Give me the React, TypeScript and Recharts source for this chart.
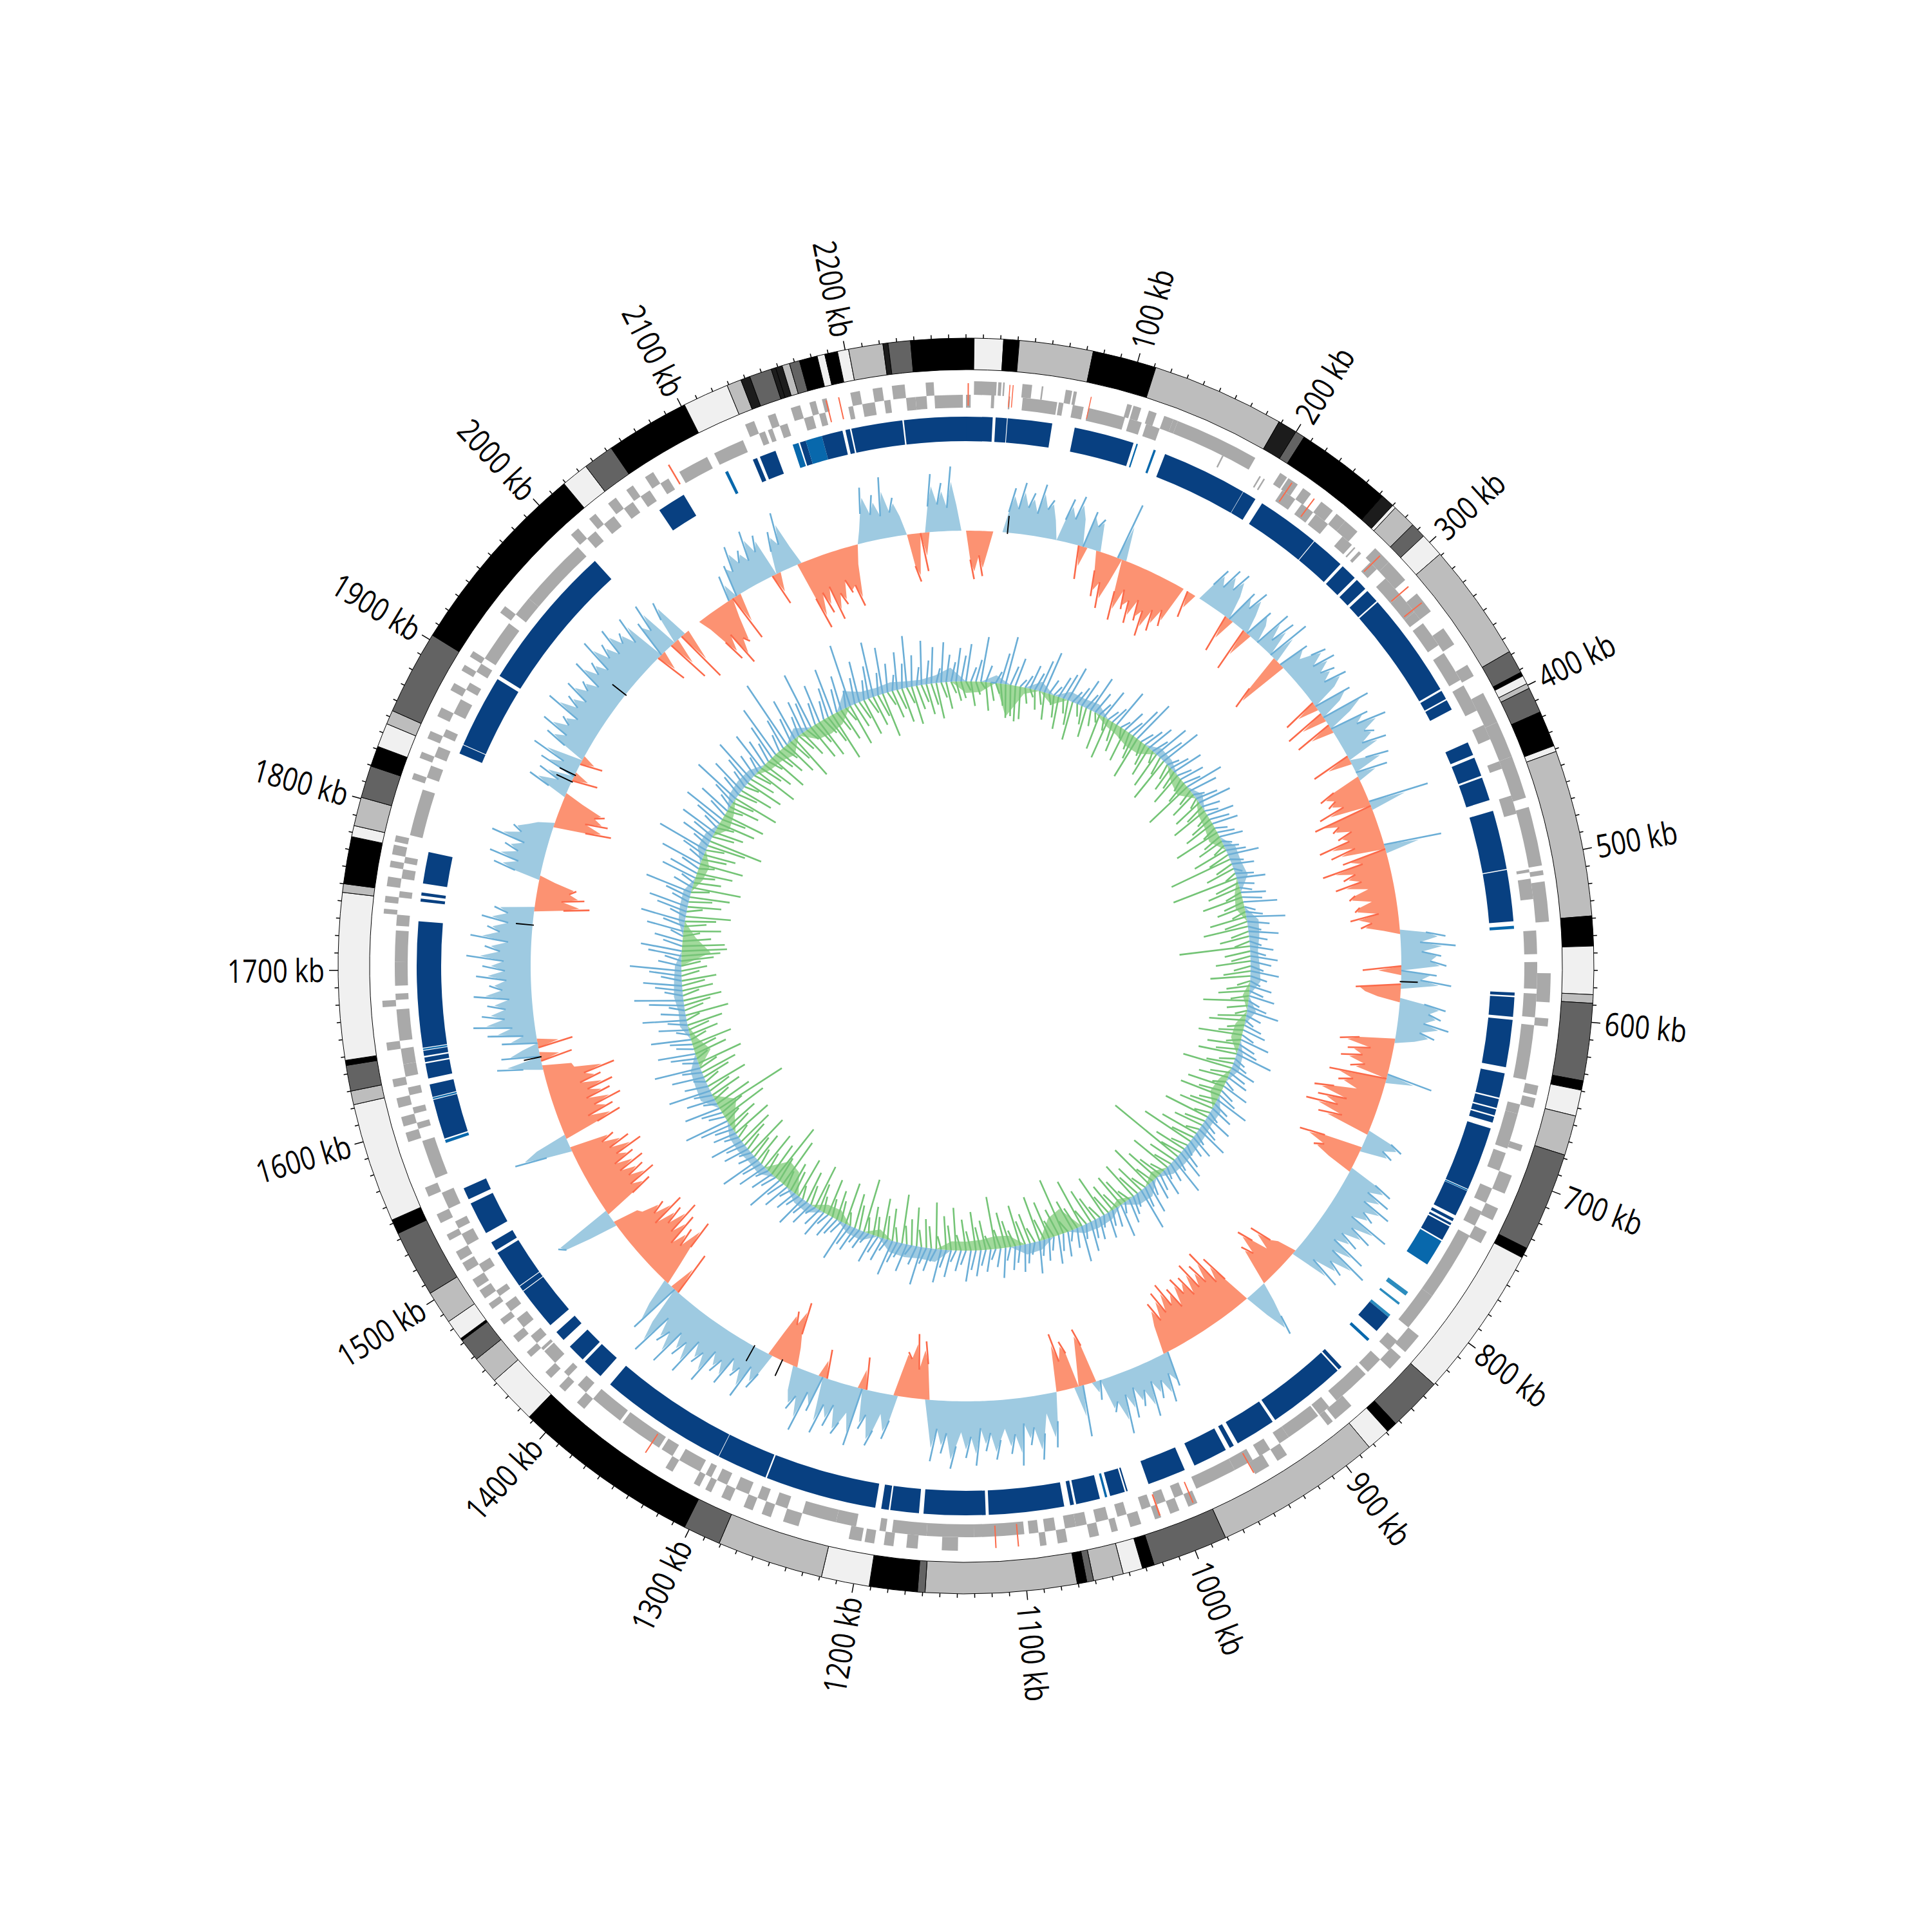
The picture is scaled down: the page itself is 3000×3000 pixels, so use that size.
import { Cell, Pie, PieChart, PolarAngleAxis, PolarRadiusAxis, Radar, RadarChart } from "recharts"

const SIZE = 3000
const GENOME_KB = 2270
const BLACK = "#000000"
const DARK = "#636363"
const GREY = "#bdbdbd"
const LIGHT = "#f0f0f0"
const HATCH = "#1c1c1c"
const NAVY = "#084081"
const MID = "#0868ac"
const SKY = "#2b8cbe"

// ideogram bands: end position (kb) + colour, clockwise from the top
const bandEnds = [4.7, 21.7, 30.8, 73.8, 111, 188.6, 199.9, 205.5, 262, 270, 272, 286, 295, 309, 378, 391.6, 394, 399, 402, 417, 438, 441.5, 538.6, 556, 584, 589, 634, 639.5, 654.7, 678, 736, 742, 831, 862.6, 869, 883, 981, 1025, 1032, 1043.5, 1061, 1065, 1070.6, 1158.6, 1163, 1191, 1219, 1281, 1303, 1413, 1442, 1458, 1471.6, 1473, 1485, 1504.4, 1543.5, 1552, 1622, 1630, 1645, 1648, 1745, 1750, 1777.5, 1784, 1800.8, 1819.6, 1831.6, 1845.6, 1853.8, 1903, 2019, 2035, 2053, 2102, 2129, 2137.5, 2143, 2156, 2158.7, 2162.6, 2167, 2173, 2183.5, 2188, 2195.5, 2202, 2222, 2225, 2238, 2270]
const bandColors = [BLACK, LIGHT, BLACK, GREY, BLACK, GREY, HATCH, DARK, BLACK, HATCH, LIGHT, GREY, DARK, LIGHT, GREY, DARK, BLACK, LIGHT, GREY, DARK, BLACK, LIGHT, GREY, BLACK, LIGHT, GREY, DARK, BLACK, LIGHT, GREY, DARK, BLACK, LIGHT, DARK, BLACK, LIGHT, GREY, DARK, BLACK, LIGHT, GREY, DARK, BLACK, GREY, DARK, BLACK, LIGHT, GREY, DARK, BLACK, LIGHT, GREY, DARK, BLACK, LIGHT, GREY, DARK, BLACK, LIGHT, GREY, DARK, BLACK, LIGHT, GREY, BLACK, LIGHT, GREY, DARK, BLACK, LIGHT, GREY, DARK, BLACK, LIGHT, DARK, BLACK, LIGHT, GREY, HATCH, DARK, HATCH, HATCH, GREY, DARK, BLACK, LIGHT, BLACK, LIGHT, GREY, HATCH, DARK, BLACK]

const geneOuter = [[5,19],[20,22],[23,24],[35,41],[47,48],[62,66],[67,69],[101,104],[105,110],[115,120],[125,131],[131,134],[134,187],[205,210],[211,218],[222,228],[236,245],[248,255],[255,265],[280,292],[292,307],[318,332],[345,357],[372,380],[392,412],[412,435],[435,462],[468,505],[508,511],[515,540],[572,590],[600,605],[642,648],[650,656],[680,684],[700,712],[722,730],[738,746],[815,828],[832,842],[875,888],[890,894],[925,932],[938,948],[988,994],[1000,1006],[1012,1016],[1025,1032],[1040,1044],[1052,1058],[1072,1078],[1085,1089],[1140,1150],[1165,1172],[1180,1186],[1192,1198],[1200,1208],[1240,1250],[1258,1264],[1270,1276],[1285,1291],[1298,1302],[1306,1310],[1325,1330],[1392,1398],[1408,1413],[1420,1425],[1438,1442],[1450,1455],[1464,1468],[1476,1480],[1484,1490],[1492,1498],[1504,1510],[1512,1518],[1526,1530],[1538,1544],[1556,1562],[1592,1598],[1602,1608],[1614,1620],[1627,1632],[1650,1655],[1677,1681],[1735,1738],[1742,1746],[1752,1758],[1764,1768],[1772,1778],[1780,1784],[1820,1824],[1834,1838],[1847,1852],[1862,1868],[1880,1885],[1894,1898],[1904,1908],[1937,1942],[2002,2008],[2017,2022],[2032,2038],[2046,2051],[2060,2066],[2130,2136],[2145,2150],[2160,2166],[2172,2176],[2180,2183],[2198,2204],[2212,2218],[2224,2232],[2245,2250]]
const geneInner = [[0,3],[16,18],[27,28],[36,58],[59,62],[68,75],[78,102],[105,113],[116,125],[168,169],[195,196],[198,199],[212,222],[227,236],[238,248],[260,268],[270,271],[274,276],[284,290],[298,312],[312,326],[326,332],[335,352],[358,378],[382,400],[410,420],[435,440],[458,470],[506,508],[512,525],[545,560],[565,582],[585,600],[605,640],[656,662],[662,685],[688,700],[712,722],[728,738],[745,790],[790,815],[826,834],[842,853],[855,880],[886,894],[895,918],[918,925],[932,940],[945,958],[958,985],[994,1000],[1006,1012],[1016,1022],[1032,1038],[1044,1052],[1058,1065],[1065,1072],[1078,1085],[1089,1095],[1098,1130],[1130,1160],[1160,1182],[1186,1190],[1205,1218],[1218,1240],[1250,1258],[1264,1270],[1276,1285],[1291,1298],[1302,1306],[1310,1325],[1330,1338],[1340,1368],[1370,1392],[1398,1405],[1413,1417],[1425,1435],[1436,1438],[1442,1448],[1455,1462],[1468,1474],[1480,1484],[1498,1504],[1518,1526],[1530,1535],[1544,1555],[1565,1590],[1598,1602],[1608,1612],[1620,1625],[1632,1640],[1640,1650],[1655,1675],[1681,1685],[1690,1705],[1705,1725],[1728,1735],[1746,1750],[1758,1764],[1768,1772],[1786,1816],[1824,1832],[1838,1845],[1852,1857],[1868,1878],[1885,1890],[1898,1904],[1908,1935],[1942,1955],[1955,2000],[2008,2015],[2022,2030],[2038,2045],[2051,2058],[2066,2072],[2080,2100],[2105,2125],[2136,2140],[2142,2145],[2150,2155],[2166,2172],[2176,2180],[2195,2198],[2204,2212],[2218,2222],[2232,2238],[2238,2245],[2250,2268]]
const geneRed = [[1,1.8],[27,27.6],[29,29.6],[78,78.6],[214,214.8],[231,231.8],[285,285.8],[311,311.8],[324,324.8],[948,948.8],[990,990.8],[1012,1013],[1102,1102.8],[1116,1116.8],[1345,1345.8],[2076,2077],[2182,2182.8],[2190,2190.8]]

// conserved blocks: start, end, colour
const blockSpans = [[0,17.6],[19.5,27],[27.5,57],[72,112],[114,115],[126,127.5],[134,191],[191.3,200.5],[205.7,247.8],[248.3,271],[273,284],[286,294],[296,305],[306,376.6],[378,384],[385,392],[416,425],[427,439.7],[441,456.6],[464,503.3],[504,538],[541,543],[585,587],[588,601],[603,634.5],[638.6,655],[656,662],[663,667],[668,672],[676,718.5],[719,719.8],[720,737.7],[740,742],[743.5,745],[746,756],[757,775],[797,800],[806,807.5],[816,818],[818,830],[837,839],[863,865.5],[866.6,919],[921,948],[951,954],[957,980],[987,1012.6],[1027,1028],[1029,1039],[1041,1042.5],[1046,1062],[1063.5,1066],[1070,1120],[1122,1163],[1166,1185],[1186,1191],[1195,1269],[1270,1303.6],[1304,1389.6],[1398,1412],[1414,1426],[1432,1439],[1445,1473.5],[1474,1477.5],[1478,1504],[1506,1512],[1519,1541],[1544,1552],[1584,1586],[1587,1613.5],[1614,1615],[1615.5,1624],[1628,1638],[1639,1642],[1643,1646.5],[1647,1648],[1648.5,1732],[1745,1747],[1749,1751],[1757,1778],[1846,1852],[1852.5,1901],[1903.5,2002],[2056,2075],[2106,2108],[2126,2129],[2131,2142],[2154,2158],[2159,2163],[2163,2174],[2174,2188],[2190,2193],[2194,2228],[2229,2270]]
const blockColors = [NAVY,NAVY,NAVY,NAVY,MID,MID,NAVY,NAVY,NAVY,NAVY,NAVY,NAVY,NAVY,NAVY,NAVY,NAVY,NAVY,NAVY,NAVY,NAVY,NAVY,MID,NAVY,NAVY,NAVY,NAVY,NAVY,NAVY,NAVY,NAVY,MID,NAVY,NAVY,NAVY,NAVY,MID,SKY,SKY,SKY,NAVY,MID,NAVY,NAVY,NAVY,NAVY,NAVY,NAVY,NAVY,NAVY,MID,NAVY,NAVY,NAVY,NAVY,NAVY,NAVY,NAVY,NAVY,NAVY,NAVY,NAVY,NAVY,NAVY,NAVY,NAVY,NAVY,NAVY,NAVY,MID,NAVY,MID,NAVY,NAVY,NAVY,NAVY,MID,NAVY,NAVY,NAVY,NAVY,NAVY,NAVY,NAVY,NAVY,MID,NAVY,NAVY,MID,NAVY,MID,NAVY,NAVY,NAVY,NAVY]

// GC skew, one value every 0.6 degrees: above zero goes outward, below zero inward
const gcSkew = [
  0,-45,-75,-38,-70,-30,0,0,0,32,70,38,80,42,66,35,82,44,60,30,
  0,34,68,38,76,42,-52,58,36,50,-30,-70,-45,-85,-40,90,-50,-95,-42,-72,
  -55,-90,-48,-80,-60,-100,-52,-85,-45,-70,0,0,-42,0,0,30,60,35,70,40,
  72,38,-60,55,32,66,30,-70,48,28,0,62,18,58,0,70,-60,-95,50,28,
  45,68,36,72,38,60,34,70,42,-55,60,36,-65,78,40,-60,62,38,85,42,
  56,30,68,-62,24,60,0,50,-45,-70,-48,-62,-40,-82,95,-95,-58,-70,-42,-66,
  -50,-100,-45,-85,90,-70,-40,-105,-55,-75,-48,-90,-40,-62,-72,-38,-58,-66,-30,-75,
  -42,-60,-25,40,70,30,85,32,62,45,70,-60,55,30,78,-70,-55,-35,38,72,
  46,66,40,80,36,60,30,-55,-85,-35,-70,-45,-78,-38,-60,72,-90,-50,-72,-40,
  -75,-105,-50,-95,-60,-110,-48,-85,40,60,32,50,-60,-100,-55,-70,-40,45,75,40,
  80,42,90,50,70,38,105,48,85,40,72,36,95,44,110,52,78,30,82,-30,
  -40,-75,-35,-60,-85,-45,-65,-30,0,30,55,85,40,0,-45,-90,-50,-110,-60,-95,
  -60,-105,-55,-90,-65,-95,-50,-85,-60,-100,-55,-92,-48,-80,-45,55,30,75,35,62,
  30,85,38,62,28,75,34,95,40,55,0,30,-60,-88,-40,80,-55,-75,-45,-90,
  0,45,85,30,60,100,48,75,40,105,55,85,45,62,92,50,78,42,100,55,
  88,48,70,105,50,82,44,95,35,-55,-90,-45,-100,-60,-70,-35,40,70,32,60,
  85,38,62,-50,92,42,60,80,36,72,40,88,-45,58,30,95,42,66,38,-30,
  -50,-100,-60,-80,-40,35,62,30,85,40,58,32,80,44,68,38,95,50,72,40,
  100,52,80,45,105,55,78,40,110,60,-70,85,42,-35,-65,-110,-55,-85,-48,-100,
  -60,-115,-65,-95,-50,-105,-58,-80,-45,-40,45,85,95,-50,-85,-55,-100,-60,-88,-52,
  -95,-50,-85,-60,-105,-55,-90,-48,-70,40,90,50,-55,-95,-45,-88,-60,-105,-52,-92,
  -58,-100,-50,-85,-60,-110,-48,-45,30,70,-50,60,25,-55,55,20,75,35,95,45,
  80,42,70,35,90,45,65,38,85,40,75,42,100,48,72,36,95,50,70,38,
  80,40,62,-45,-85,-40,-75,-50,-60,-25,40,75,38,85,42,65,36,90,45,60,
  38,25,-50,-90,-45,-80,-55,-70,-30,30,65,20,55,-40,60,25,80,-35,35,70,
  40,85,45,60,38,95,48,70,42,82,50,65,40,90,52,72,45,100,55,78,
  48,92,55,70,42,85,-50,60,38,82,-70,40,68,-85,0,0,0,0,-20,-50,
  -85,-45,-100,-60,-70,-30,40,-75,50,35,75,42,60,38,85,45,70,-50,35,65,
  40,90,30,-60,-110,-55,-90,-50,-105,-65,-85,-48,-70,-60,-95,-30,0,20,45,85,
  40,70,35,95,38,60,30,0,-50,-75,0,-60,40,90,42,75,36,100,40,0,
]

// GC content above the mean (blue, outward), one value per degree
const contentUp = [
  40,58,22,34,70,26,0,18,48,75,30,44,12,20,38,28,50,66,24,16,34,42,56,20,30,46,26,58,36,22,
  48,18,28,62,14,36,24,52,70,20,32,44,26,58,40,66,18,30,48,22,38,26,60,44,16,34,52,28,20,42,
  30,40,18,26,36,14,22,30,48,20,34,12,28,44,24,18,38,30,52,16,26,60,34,20,46,28,18,36,24,42,
  32,20,44,26,16,34,22,40,18,30,50,24,14,28,36,20,46,26,32,58,18,24,40,28,34,16,42,22,30,54,
  26,36,18,44,24,30,52,20,38,28,16,34,46,24,60,30,18,42,26,36,22,48,32,66,20,28,38,16,52,30,
  24,40,18,34,28,46,22,56,30,16,38,26,44,20,34,24,50,18,30,42,26,36,20,46,28,16,34,24,40,30,
  48,22,32,18,42,28,52,20,36,26,60,30,16,44,24,34,56,20,38,28,46,18,30,24,40,34,62,22,28,36,
  20,44,30,16,38,26,50,22,34,18,42,28,58,24,36,20,46,32,64,26,18,40,30,52,22,36,28,48,70,24,
  32,56,20,44,28,66,36,18,50,30,72,24,40,58,26,34,62,20,46,30,68,38,24,54,76,28,42,60,32,50,
  80,36,26,52,64,30,44,20,58,34,70,26,48,62,28,40,74,32,22,56,46,30,66,24,38,82,28,50,36,60,
  26,44,68,30,52,22,38,78,34,58,28,46,72,36,24,62,42,30,56,84,26,48,110,38,66,30,52,44,90,34,
  60,28,46,74,36,54,26,98,40,64,30,50,86,34,72,44,24,58,38,80,48,28,68,36,56,22,62,42,30,52,
]

// GC content below the mean (green, inward), one value per degree
const contentDown = [
  26,14,38,20,10,44,28,16,34,52,48,55,50,24,12,30,20,42,16,34,50,22,38,60,18,28,46,24,14,56,
  20,64,30,44,16,52,26,38,68,22,34,48,18,58,28,72,24,40,30,54,20,36,80,26,44,16,48,32,60,22,
  36,50,24,74,30,42,20,56,34,100,28,46,18,105,38,52,26,64,32,44,22,58,36,70,28,46,24,110,40,30,
  54,26,42,62,20,36,48,28,70,32,18,44,56,26,38,68,22,50,34,60,24,42,78,30,46,20,58,36,64,28,
  40,54,24,72,32,46,20,60,36,84,26,50,34,125,44,28,66,22,38,56,30,74,24,48,36,62,20,42,54,28,
  46,32,68,22,40,56,26,78,36,50,20,90,44,28,60,34,72,24,48,38,64,26,42,56,30,82,22,46,36,60,
  30,48,24,66,38,52,20,72,34,44,26,60,40,28,76,22,50,36,62,30,44,24,84,38,54,20,66,32,46,28,
  58,24,42,70,30,50,20,64,36,46,26,78,40,95,54,30,62,24,48,36,70,28,44,58,22,66,34,50,26,74,
  40,115,60,28,50,36,66,24,44,58,30,72,20,52,38,64,26,46,34,56,22,68,30,42,60,26,48,36,54,28,
  40,30,50,60,70,66,44,26,58,34,48,70,24,52,36,62,28,76,42,30,56,24,68,38,50,28,60,85,34,46,
  26,58,38,66,24,48,34,72,30,52,22,60,40,28,70,36,50,24,64,32,46,26,56,38,74,30,44,22,58,36,
  62,28,46,78,34,52,24,66,40,30,58,26,48,36,70,22,44,32,54,26,60,38,28,48,34,56,24,42,18,30,
]

// filled band under the GC content spikes, one value every 3 degrees
const contentBand = [
  -18,-16,12,-50,-10,15,-15,14,12,14,-10,-14,-20,-18,12,10,-14,-20,12,-12,
  -14,-18,16,15,18,-10,-14,18,16,12,14,16,-10,14,-14,-16,10,12,-12,-16,
  14,12,14,15,16,14,-12,18,16,-10,12,14,12,-38,-30,14,16,-18,-20,-16,
  -14,-14,20,18,20,18,-12,14,12,-16,-14,14,12,-30,-34,14,12,14,12,-14,
  -30,20,18,16,-25,-10,12,10,14,12,10,-45,-20,10,12,12,-12,-15,14,12,
  -18,-12,12,14,12,-12,-14,-20,14,-22,-25,-20,25,14,12,14,10,8,12,22,
]

// short black marks sitting on the skew track
const skewMarks = [34, 580, 1292, 1318, 1626, 1736, 1860, 1866, 1945]

// tick every 10 kb, one row per tick
const tickKb = Array.from({ length: GENOME_KB / 10 }, (_, i) => i * 10)

const SKEW_BASE = 676
const CONTENT_BASE = 442

const spanSlices = (spans, colorOf) => {
  const slices = []
  let pos = 0
  spans.forEach(([start, end], i) => {
    if (start > pos) slices.push({ span: start - pos, fill: "none" })
    slices.push({ span: end - start, fill: colorOf(i) })
    pos = end
  })
  if (pos < GENOME_KB) slices.push({ span: GENOME_KB - pos, fill: "none" })
  return slices
}

const bandSlices = bandEnds.map((end, i) => ({ span: end - (i ? bandEnds[i - 1] : 0), fill: bandColors[i] }))
const outerSlices = spanSlices(geneOuter, () => "#a9a9a9")
const innerSlices = spanSlices(geneInner, () => "#a9a9a9")
const redSlices = spanSlices(geneRed, () => "#fb6a4a")
const blockSlices = spanSlices(blockSpans, (i) => blockColors[i])
const markSlices = spanSlices(skewMarks.map((kb) => [kb, kb + 1]), () => "#000000")

// only part of a lone peak is filled, the rest is carried by its line
const fillHeight = (v, a, b, tipShare) => {
  if (v <= 0) return 0
  const shoulder = Math.max(a, b, 0)
  return v <= shoulder ? v : shoulder + (v - shoulder) * tipShare
}

const skewRows = gcSkew.map((v, i) => {
  const prev = gcSkew[(i + gcSkew.length - 1) % gcSkew.length]
  const next = gcSkew[(i + 1) % gcSkew.length]
  return {
    idx: i,
    upFill: [SKEW_BASE, SKEW_BASE + fillHeight(v, prev, next, 0.6)],
    downFill: [SKEW_BASE, SKEW_BASE - fillHeight(-v, -prev, -next, 0.6)],
    upLine: SKEW_BASE + Math.max(v, 0),
    downLine: SKEW_BASE + Math.min(v, 0),
  }
})
const contentRows = contentUp.map((v, i) => ({ idx: i, upLine: CONTENT_BASE + v, downLine: CONTENT_BASE - contentDown[i] }))
const bandRows = contentBand.map((v, i) => ({
  idx: i,
  upFill: [CONTENT_BASE, CONTENT_BASE + Math.max(v, 0)],
  downFill: [CONTENT_BASE, CONTENT_BASE + Math.min(v, 0)],
}))
const tickRows = tickKb.map((kb) => ({ kb }))

// skew: one slanted stroke per peak, from the point before it up to its tip
const PeakLines = ({ points, stroke, outward }) => {
  let d = ""
  points.forEach((p, i) => {
    const prev = points[(i + points.length - 1) % points.length]
    const next = points[(i + 1) % points.length]
    const peak = outward ? p.radius > prev.radius && p.radius >= next.radius : p.radius < prev.radius && p.radius <= next.radius
    if (peak) d += `M${prev.x},${prev.y}L${p.x},${p.y}`
  })
  return <path d={d} fill="none" stroke={stroke} strokeWidth={2.6} />
}

// content: every value is its own stroke, leaning from the baseline one step back
const BaseLines = ({ points, stroke, base }) => {
  let d = ""
  points.forEach((p, i) => {
    const prev = points[(i + points.length - 1) % points.length]
    const k = base / prev.radius
    d += `M${p.cx + (prev.x - p.cx) * k},${p.cy + (prev.y - p.cy) * k}L${p.x},${p.y}`
  })
  return <path d={d} fill="none" stroke={stroke} strokeWidth={2.6} />
}

const TickMark = ({ x, y, payload }) => {
  const kb = payload.value
  const dx = x - SIZE / 2
  const dy = y - SIZE / 2
  const len = Math.hypot(dx, dy)
  const ux = dx / len
  const uy = dy / len
  const major = kb % 100 === 0 && kb > 0
  const r0 = 975
  const r1 = major ? 989 : 981
  let theta = (Math.atan2(ux, -uy) * 180) / Math.PI
  if (theta < 0) theta += 360
  const right = theta < 180
  const lx = SIZE / 2 + ux * 996
  const ly = SIZE / 2 + uy * 996
  return (
    <g>
      <line x1={SIZE / 2 + ux * r0} y1={SIZE / 2 + uy * r0} x2={SIZE / 2 + ux * r1} y2={SIZE / 2 + uy * r1} stroke="#000" strokeWidth={1.5} />
      {major ? (
        <text
          dy="0.36em"
          textAnchor={right ? "start" : "end"}
          transform={`translate(${lx} ${ly}) rotate(${right ? theta - 90 : theta + 90}) scale(0.82 1)`}
          fontFamily="Open Sans"
          fontSize={50}
          fill="#000"
        >
          {kb} kb
        </text>
      ) : null}
    </g>
  )
}

const Ring = (slices, inner, outer, key, stroke = "none") => (
  <Pie
    key={key}
    data={slices}
    dataKey="span"
    startAngle={90}
    endAngle={-270}
    innerRadius={inner}
    outerRadius={outer}
    stroke={stroke}
    strokeWidth={stroke === "none" ? 0 : 1}
    isAnimationActive={false}
    legendType="none"
  >
    {slices.map((s, i) => (
      <Cell key={i} fill={s.fill} stroke={s.fill === "none" ? "none" : stroke} />
    ))}
  </Pie>
)

const polar = { outerRadius: 975, startAngle: 90, endAngle: -270, margin: { top: 0, right: 0, bottom: 0, left: 0 }, width: SIZE, height: SIZE }

const FILL_PROPS = { fillOpacity: 1, stroke: "none", dot: false, isAnimationActive: false }

const layer = { position: "absolute", left: 0, top: 0, width: SIZE, height: SIZE }

export default function App() {
  return (
    <div style={{ position: "absolute", left: 0, top: 0, width: SIZE, height: SIZE, background: "#fff" }}>
      <div style={layer}>
        <RadarChart {...polar} data={skewRows}>
          <PolarAngleAxis dataKey="idx" tick={false} tickLine={false} axisLine={false} />
          <PolarRadiusAxis type="number" domain={[0, 975]} tick={false} axisLine={false} allowDataOverflow />
          <Radar dataKey="upFill" fill="#9ecae1" {...FILL_PROPS} />
          <Radar dataKey="downFill" fill="#fc9272" {...FILL_PROPS} />
          <Radar dataKey="downLine" shape={(p) => <PeakLines points={p.points} stroke="#fb6a4a" outward={false} />} dot={false} isAnimationActive={false} />
          <Radar dataKey="upLine" shape={(p) => <PeakLines points={p.points} stroke="#6baed6" outward />} dot={false} isAnimationActive={false} />
        </RadarChart>
      </div>
      <div style={layer}>
        <RadarChart {...polar} data={bandRows}>
          <PolarAngleAxis dataKey="idx" tick={false} tickLine={false} axisLine={false} />
          <PolarRadiusAxis type="number" domain={[0, 975]} tick={false} axisLine={false} allowDataOverflow />
          <Radar dataKey="upFill" fill="#9ecae1" {...FILL_PROPS} />
          <Radar dataKey="downFill" fill="#a1d99b" {...FILL_PROPS} />
        </RadarChart>
      </div>
      <div style={layer}>
        <RadarChart {...polar} data={contentRows}>
          <PolarAngleAxis dataKey="idx" tick={false} tickLine={false} axisLine={false} />
          <PolarRadiusAxis type="number" domain={[0, 975]} tick={false} axisLine={false} allowDataOverflow />
          <Radar dataKey="downLine" shape={(p) => <BaseLines points={p.points} stroke="#74c476" base={CONTENT_BASE} />} dot={false} isAnimationActive={false} />
          <Radar dataKey="upLine" shape={(p) => <BaseLines points={p.points} stroke="#6baed6" base={CONTENT_BASE} />} dot={false} isAnimationActive={false} />
        </RadarChart>
      </div>
      <div style={layer}>
        <PieChart width={SIZE} height={SIZE} margin={{ top: 0, right: 0, bottom: 0, left: 0 }}>
          {Ring(bandSlices, 926, 975, "bands", "#000")}
          {Ring(outerSlices, 887, 908, "genesOuter")}
          {Ring(innerSlices, 867, 887, "genesInner")}
          {Ring(redSlices, 870, 905, "genesRed")}
          {Ring(blockSlices, 815, 853, "blocks")}
          {Ring(markSlices, 674, 702, "marks")}
        </PieChart>
      </div>
      <div style={layer}>
        <RadarChart {...polar} data={tickRows}>
          <PolarAngleAxis dataKey="kb" tick={TickMark} tickLine={false} axisLine={false} />
          <PolarRadiusAxis type="number" domain={[0, 975]} tick={false} axisLine={false} />
        </RadarChart>
      </div>
    </div>
  )
}
